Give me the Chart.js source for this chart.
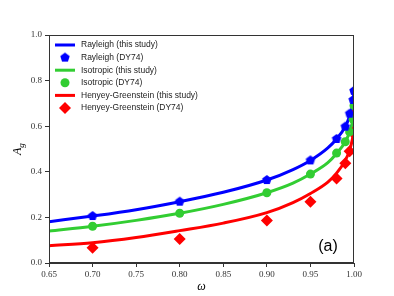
<!DOCTYPE html>
<html>
<head>
<meta charset="utf-8">
<script src="https://cdn.jsdelivr.net/npm/chart.js@4.4.0/dist/chart.umd.min.js"></script>
<style>
  html, body { margin: 0; padding: 0; background: #fff; }
  #wrap { width: 394px; height: 296px; }
</style>
</head>
<body>
<div id="wrap"><canvas id="albedoChart" width="394" height="296"></canvas></div>
<script>
// single scattering albedo values
const omegaCurve = [0.65, 0.70, 0.75, 0.80, 0.85, 0.90, 0.93, 0.95, 0.97, 0.98, 0.99, 0.995, 0.998, 0.999, 1.0];
const rayleighCurve = [0.181, 0.206, 0.234, 0.269, 0.310, 0.364, 0.410, 0.450, 0.505, 0.544, 0.598, 0.645, 0.685, 0.705, 0.755];
const isoCurve = [0.140, 0.161, 0.187, 0.218, 0.257, 0.308, 0.350, 0.390, 0.440, 0.480, 0.532, 0.575, 0.615, 0.635, 0.690];
const hgCurve = [0.076, 0.089, 0.112, 0.142, 0.175, 0.221, 0.265, 0.305, 0.355, 0.394, 0.450, 0.495, 0.540, 0.565, 0.630];

// DY74 table values
const omegaDY = [0.70, 0.80, 0.90, 0.95, 0.98, 0.99, 0.995, 0.999, 1.0];
const rayleighDY = [0.206, 0.269, 0.364, 0.450, 0.544, 0.598, 0.655, 0.715, 0.755];
const isoDY = [0.161, 0.218, 0.308, 0.390, 0.482, 0.532, 0.575, 0.630, 0.690];
const hgDY = [0.067, 0.105, 0.186, 0.269, 0.371, 0.437, 0.490, 0.570, 0.650];

const xTicks = [0.65, 0.70, 0.75, 0.80, 0.85, 0.90, 0.95, 1.00];
const yTicks = [0.0, 0.2, 0.4, 0.6, 0.8, 1.0];

const BLUE = '#0000ff';
const GREEN = '#32cd32';
const RED = '#ff0000';

function pairs(xs, ys) {
  return xs.map((x, i) => ({ x: x, y: ys[i] }));
}

// pentagon marker (no built-in one in Chart.js)
function pentagon(color, r) {
  const c = document.createElement('canvas');
  const s = Math.ceil(r * 2 + 2);
  c.width = s; c.height = s;
  const g = c.getContext('2d');
  g.fillStyle = color;
  g.beginPath();
  for (let i = 0; i < 5; i++) {
    const a = -Math.PI / 2 + i * 2 * Math.PI / 5;
    const px = s / 2 + r * Math.cos(a);
    const py = s / 2 + r * Math.sin(a);
    if (i === 0) g.moveTo(px, py); else g.lineTo(px, py);
  }
  g.closePath();
  g.fill();
  return c;
}
const pentaBlue = pentagon(BLUE, 5);

function lineSet(label, ys, color) {
  return {
    type: 'line', label: label, data: pairs(omegaCurve, ys),
    borderColor: color, backgroundColor: color, borderWidth: 3,
    pointRadius: 0, cubicInterpolationMode: 'monotone', clip: 0, order: 2
  };
}
function dotSet(label, ys, color, style, radius) {
  return {
    type: 'scatter', label: label, data: pairs(omegaDY, ys),
    borderColor: color, backgroundColor: color, borderWidth: 0,
    pointStyle: style, pointRadius: radius, pointHoverRadius: radius, clip: 0, order: 1
  };
}

const serif = '"Liberation Serif", "DejaVu Serif", serif';
const sans = '"Liberation Sans", Arial, sans-serif';

// box around plot, axis titles, legend and panel tag
const decor = {
  id: 'decor',
  afterDraw(chart) {
    const ctx = chart.ctx;
    const a = chart.chartArea;
    ctx.save();
    ctx.strokeStyle = '#333';
    ctx.lineWidth = 1;
    ctx.strokeRect(a.left + 0.5, a.top + 0.5, a.right - a.left - 1, a.bottom - a.top - 1);

    // axis titles
    ctx.fillStyle = '#000';
    ctx.font = 'italic 12px ' + serif;
    ctx.textAlign = 'center';
    ctx.textBaseline = 'middle';
    ctx.fillText('\u03c9', (a.left + a.right) / 2, 287);

    ctx.save();
    ctx.translate(18, (a.top + a.bottom) / 2);
    ctx.rotate(-Math.PI / 2);
    ctx.textAlign = 'left';
    ctx.font = 'italic 12px ' + serif;
    const wA = ctx.measureText('A').width;
    ctx.fillText('A', -6, 0);
    ctx.font = 'italic 9px ' + serif;
    ctx.fillText('g', -6 + wA, 4);
    ctx.restore();

    // legend, font sized so the longest label spans ~117px
    const ds = chart.data.datasets;
    ctx.font = '10px ' + sans;
    const longest = Math.max(...ds.map(d => ctx.measureText(d.label).width));
    const fs = 10 * 117 / longest;
    ctx.font = fs.toFixed(2) + 'px ' + sans;
    ctx.textAlign = 'left';
    ctx.textBaseline = 'middle';
    ds.forEach((d, i) => {
      const y = 45 + i * 12.6;
      if (d.type === 'line') {
        ctx.strokeStyle = d.borderColor;
        ctx.lineWidth = 3;
        ctx.beginPath();
        ctx.moveTo(55, y);
        ctx.lineTo(75, y);
        ctx.stroke();
      } else {
        ctx.fillStyle = d.backgroundColor;
        if (d.pointStyle === 'circle') {
          ctx.beginPath();
          ctx.arc(65, y, 4.5, 0, Math.PI * 2);
          ctx.fill();
        } else if (d.pointStyle === 'rectRot') {
          ctx.beginPath();
          ctx.moveTo(65, y - 6); ctx.lineTo(71, y); ctx.lineTo(65, y + 6); ctx.lineTo(59, y);
          ctx.closePath();
          ctx.fill();
        } else {
          ctx.drawImage(d.pointStyle, 65 - d.pointStyle.width / 2, y - d.pointStyle.height / 2);
        }
      }
      ctx.fillStyle = '#222';
      ctx.fillText(d.label, 81, y);
    });

    ctx.font = '16px ' + sans;
    ctx.fillStyle = '#000';
    ctx.textAlign = 'center';
    ctx.fillText('(a)', 328, 247);
    ctx.restore();
  }
};

new Chart(document.getElementById('albedoChart'), {
  data: {
    datasets: [
      lineSet('Rayleigh (this study)', rayleighCurve, BLUE),
      dotSet('Rayleigh (DY74)', rayleighDY, BLUE, pentaBlue, 5),
      lineSet('Isotropic (this study)', isoCurve, GREEN),
      dotSet('Isotropic (DY74)', isoDY, GREEN, 'circle', 4.5),
      lineSet('Henyey-Greenstein (this study)', hgCurve, RED),
      dotSet('Henyey-Greenstein (DY74)', hgDY, RED, 'rectRot', 6)
    ]
  },
  options: {
    responsive: false,
    animation: false,
    events: [],
    layout: { padding: { left: 0, right: 40, top: 35, bottom: 0 } },
    plugins: { legend: { display: false }, tooltip: { enabled: false } },
    scales: {
      x: {
        type: 'linear', min: 0.65, max: 1.0,
        afterFit(scale) { scale.height = 33; },
        afterBuildTicks(scale) { scale.ticks = xTicks.map(v => ({ value: v })); },
        border: { display: true, color: '#333', width: 1 },
        grid: { drawOnChartArea: false, drawTicks: true, tickLength: 4, color: '#333' },
        ticks: {
          padding: 2, color: '#333', maxRotation: 0, autoSkip: false,
          font: { family: serif, size: 9 },
          callback: v => v.toFixed(2)
        }
      },
      y: {
        type: 'linear', min: 0, max: 1.0,
        afterFit(scale) { scale.width = 49; },
        afterBuildTicks(scale) { scale.ticks = yTicks.map(v => ({ value: v })); },
        border: { display: true, color: '#333', width: 1 },
        grid: { drawOnChartArea: false, drawTicks: true, tickLength: 4, color: '#333' },
        ticks: {
          padding: 3, color: '#333', autoSkip: false,
          font: { family: serif, size: 9 },
          callback: v => v.toFixed(1)
        }
      }
    }
  },
  plugins: [decor]
});
</script>
</body>
</html>
